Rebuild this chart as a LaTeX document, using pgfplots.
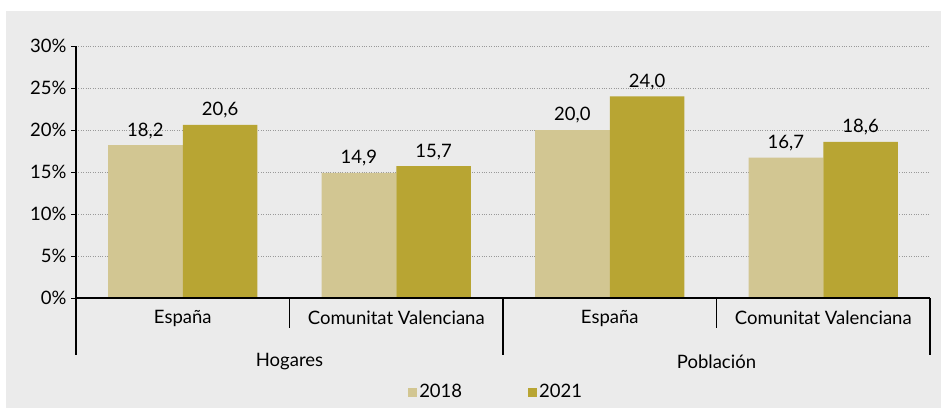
\documentclass[border=0pt]{standalone}
\usepackage{pgfplots}
\pgfplotsset{compat=1.18}
\usepackage{fontspec}
\setmainfont{Lato}
\definecolor{bg}{HTML}{EBEBEB}
\definecolor{c2018}{HTML}{D2C692}
\definecolor{c2021}{HTML}{B8A533}
\newcommand{\fs}{\fontsize{18.5}{21}\selectfont}

\begin{document}
\begin{tikzpicture}
\fill[bg] (6pt,0pt) rectangle (941pt,397pt);
\begin{axis}[
  at={(76pt,110pt)}, anchor=south west,
  scale only axis, width=854pt, height=252pt,
  ymin=0, ymax=30, ytick={0,5,...,30},
  xmin=-0.5, xmax=3.5,
  xtick={0,1,2,3},
  xticklabels={España,Comunitat Valenciana,España,Comunitat Valenciana},
  x tick style={draw=none},
  xticklabel style={yshift=-4pt},
  yticklabel style={xshift=-1pt},
  ybar=0pt, bar width=0.35,
  axis lines*=left,
  axis line style={line width=1.6pt, black},
  y tick style={line width=1pt, black},
  tick align=outside, major tick length=5pt,
  ymajorgrids, major grid style={dotted, gray!80, line width=0.6pt},
  /pgf/number format/assume math mode=true,
  yticklabel={\pgfmathprintnumber{\tick}\%},
  tick label style={font=\fs},
  nodes near coords={\pgfmathprintnumber[fixed,fixed zerofill,precision=1,use comma]{\pgfplotspointmeta}},
  every node near coord/.append style={font=\fs, yshift=3pt},
  clip=false,
  legend style={at={(0.492,-0.373)}, anchor=center, draw=none, fill=none,
    legend columns=2, font=\fs,
    /tikz/every even column/.append style={column sep=64pt}},
  legend image code/.code={\fill[#1] (0pt,-4.5pt) rectangle (9pt,4.5pt);},
]
\addplot[fill=c2018, draw=none] coordinates {(0,18.2) (1,14.9) (2,20.0) (3,16.7)};
\addplot[fill=c2021, draw=none] coordinates {(0,20.6) (1,15.7) (2,24.0) (3,18.6)};
\legend{2018,2021}
\draw[line width=1.6pt] (axis cs:-0.5,0) -- (axis cs:3.5,0);
\draw[line width=1.6pt] (axis cs:-0.5,0) -- ++(0pt,-57pt);
\draw[line width=1.6pt] (axis cs:1.5,0) -- ++(0pt,-57pt);
\draw[line width=1.6pt] (axis cs:3.5,0) -- ++(0pt,-57pt);
\draw[line width=1.6pt] (axis cs:0.5,0) -- ++(0pt,-30pt);
\draw[line width=1.6pt] (axis cs:2.5,0) -- ++(0pt,-30pt);
\node[font=\fs] at (axis cs:0.5,0) [yshift=-64pt] {Hogares};
\node[font=\fs] at (axis cs:2.5,0) [yshift=-64pt] {Población};
\end{axis}
\pgfresetboundingbox
\useasboundingbox (0pt,0pt) rectangle (941pt,408pt);
\end{tikzpicture}
\end{document}
